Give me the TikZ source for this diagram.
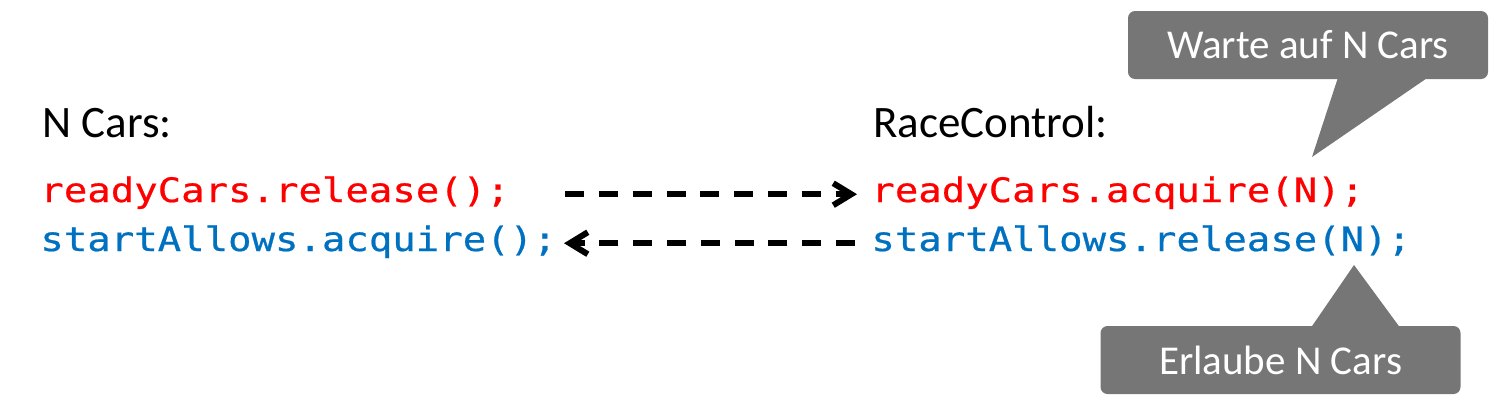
\documentclass[tikz,border=0pt]{standalone}
\usepackage{fontspec}
\setmainfont{Carlito}
\newfontfamily\codefont[FakeStretch=1.16,FakeBold=0.6]{DejaVu Sans Mono}
\usetikzlibrary{arrows.meta}
\definecolor{codered}{HTML}{FF0000}
\definecolor{codeblue}{HTML}{0070C0}
\definecolor{bubblegray}{HTML}{767676}

\begin{document}
\begin{tikzpicture}[x=0.5pt,y=-0.5pt,
	heading/.style={anchor=base west,inner sep=0pt,font=\fontsize{22.5}{27}\selectfont},
	code/.style={anchor=base west,inner sep=0pt,font=\codefont\fontsize{16.8}{20}\selectfont},
	flow/.style={line width=3pt,dash pattern=on 9.5pt off 7.4pt,-{Straight Barb[length=9pt,width=11pt]}},
	bubble/.style={fill=bubblegray,text=white,rounded corners=3.5pt,minimum width=180pt,minimum height=34pt,inner sep=0pt,font=\fontsize{20.5}{24}\selectfont}]
	\useasboundingbox (0,0) rectangle (1509,413);
	% threads
	\node [heading] at (42,137) (cars) {N Cars:};
	\node [heading] at (873,137) (race) {RaceControl:};
	\node [code,text=codered] at (40,202) (relL) {readyCars.release();};
	\node [code,text=codeblue] at (40,251) (acqL) {startAllows.acquire();};
	\node [code,text=codered] at (871,202) (acqR) {readyCars.acquire(N);};
	\node [code,text=codeblue] at (871,251) (relR) {startAllows.release(N);};
	% signals
	\draw [flow,shorten <=27.5pt,shorten >=7pt] ([yshift=1.5pt]relL.mid east) -- ([yshift=1.5pt]acqR.mid west);
	\draw [flow,shorten <=8pt,shorten >=3.5pt] ([yshift=1.5pt]relR.mid west) -- ([yshift=1.5pt]acqL.mid east);
	% callouts
	\node [bubble] at (1308,45) (wait) {Warte auf N Cars};
	\coordinate (waitTip) at (1312,157);
	\fill [bubblegray] ([xshift=15pt,yshift=1pt]wait.south) -- (waitTip) -- ([xshift=60pt,yshift=1pt]wait.south) -- cycle;
	\node [bubble] at (1280.5,360) (allow) {Erlaube N Cars};
	\coordinate (allowTip) at (1354,265);
	\fill [bubblegray] ([xshift=15.25pt,yshift=-1pt]allow.north) -- (allowTip) -- ([xshift=59.75pt,yshift=-1pt]allow.north) -- cycle;
\end{tikzpicture}
\end{document}
